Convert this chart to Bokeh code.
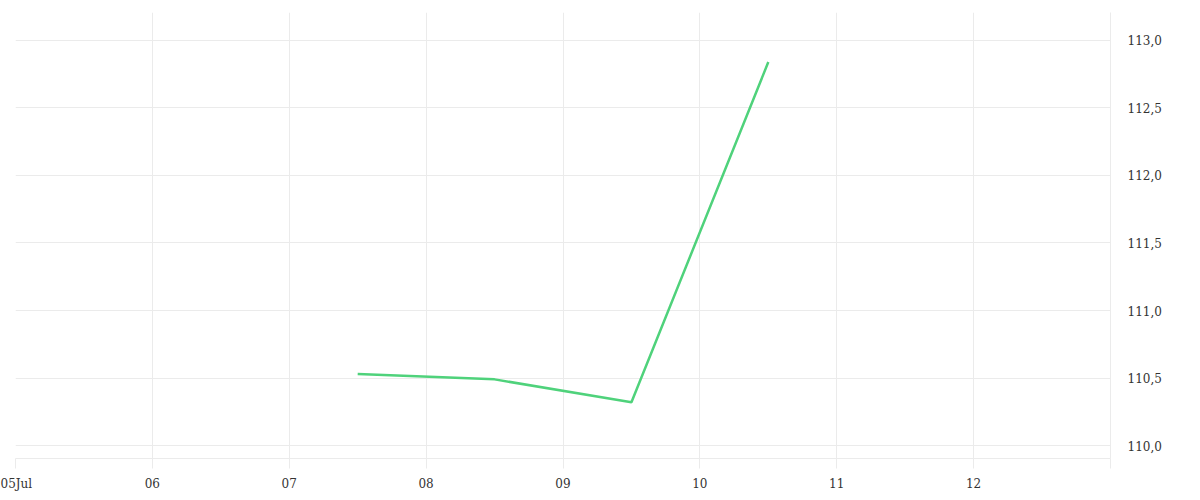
import pandas as pd
from bokeh.plotting import figure
from bokeh.models import FixedTicker, CustomJSTickFormatter, Range1d
from bokeh.embed import file_html
from bokeh.resources import INLINE

# Data
dates = ["2024-07-07 12:00", "2024-07-08 12:00", "2024-07-09 12:00", "2024-07-10 12:00"]
values = [110.53, 110.49, 110.32, 112.84]
x_tick_days = ["2024-07-05", "2024-07-06", "2024-07-07", "2024-07-08", "2024-07-09",
               "2024-07-10", "2024-07-11", "2024-07-12", "2024-07-13"]
y_ticks = [110.0, 110.5, 111.0, 111.5, 112.0, 112.5, 113.0]

x = pd.to_datetime(dates)
xt = pd.to_datetime(x_tick_days)
xt_ms = [t.value / 1e6 for t in xt]

p = figure(frame_width=1095, frame_height=446, x_axis_type="datetime",
           y_axis_location="right", output_backend="svg", toolbar_location=None,
           min_border_left=15, min_border_top=12, min_border_right=0, min_border_bottom=0)
p.x_range = Range1d(xt_ms[0], xt_ms[-1])
p.y_range = Range1d(109.904, 113.207)
p.outline_line_color = None
p.background_fill_color = "white"

p.line(x, values, line_color="#4fd27b", line_width=2.5)

grid_c = "#ebebeb"
font = "DejaVu Serif"

xa = p.xaxis[0]
xa.ticker = FixedTicker(ticks=xt_ms)
xa.formatter = CustomJSTickFormatter(args=dict(last=xt_ms[-1], first=xt_ms[0]), code="""
    if (tick >= last) return '';
    const d = new Date(tick);
    const dd = String(d.getUTCDate()).padStart(2, '0');
    if (tick <= first) {
        const m = ['Jan','Feb','Mar','Apr','May','Jun','Jul','Aug','Sep','Oct','Nov','Dec'][d.getUTCMonth()];
        return dd + m;
    }
    return dd;
""")
xa.axis_line_color = grid_c
xa.major_tick_line_color = grid_c
xa.major_tick_out = 10
xa.major_tick_in = 0
xa.minor_tick_line_color = None
xa.major_label_standoff = 8
xa.major_label_text_font = font
xa.major_label_text_font_size = "12px"
xa.major_label_text_color = "#333333"

ya = p.yaxis[0]
ya.ticker = FixedTicker(ticks=y_ticks)
ya.formatter = CustomJSTickFormatter(code="return tick.toFixed(1).replace('.', ',');")
ya.axis_line_color = grid_c
ya.major_tick_line_color = None
ya.minor_tick_line_color = None
ya.major_tick_out = 0
ya.major_tick_in = 0
ya.major_label_standoff = 17
ya.major_label_text_font = font
ya.major_label_text_font_size = "12px"
ya.major_label_text_color = "#333333"

p.xgrid.grid_line_color = grid_c
p.ygrid.grid_line_color = grid_c
p.xgrid.ticker = xa.ticker
p.ygrid.ticker = ya.ticker

open("out.html", "w").write(file_html(p, INLINE))
